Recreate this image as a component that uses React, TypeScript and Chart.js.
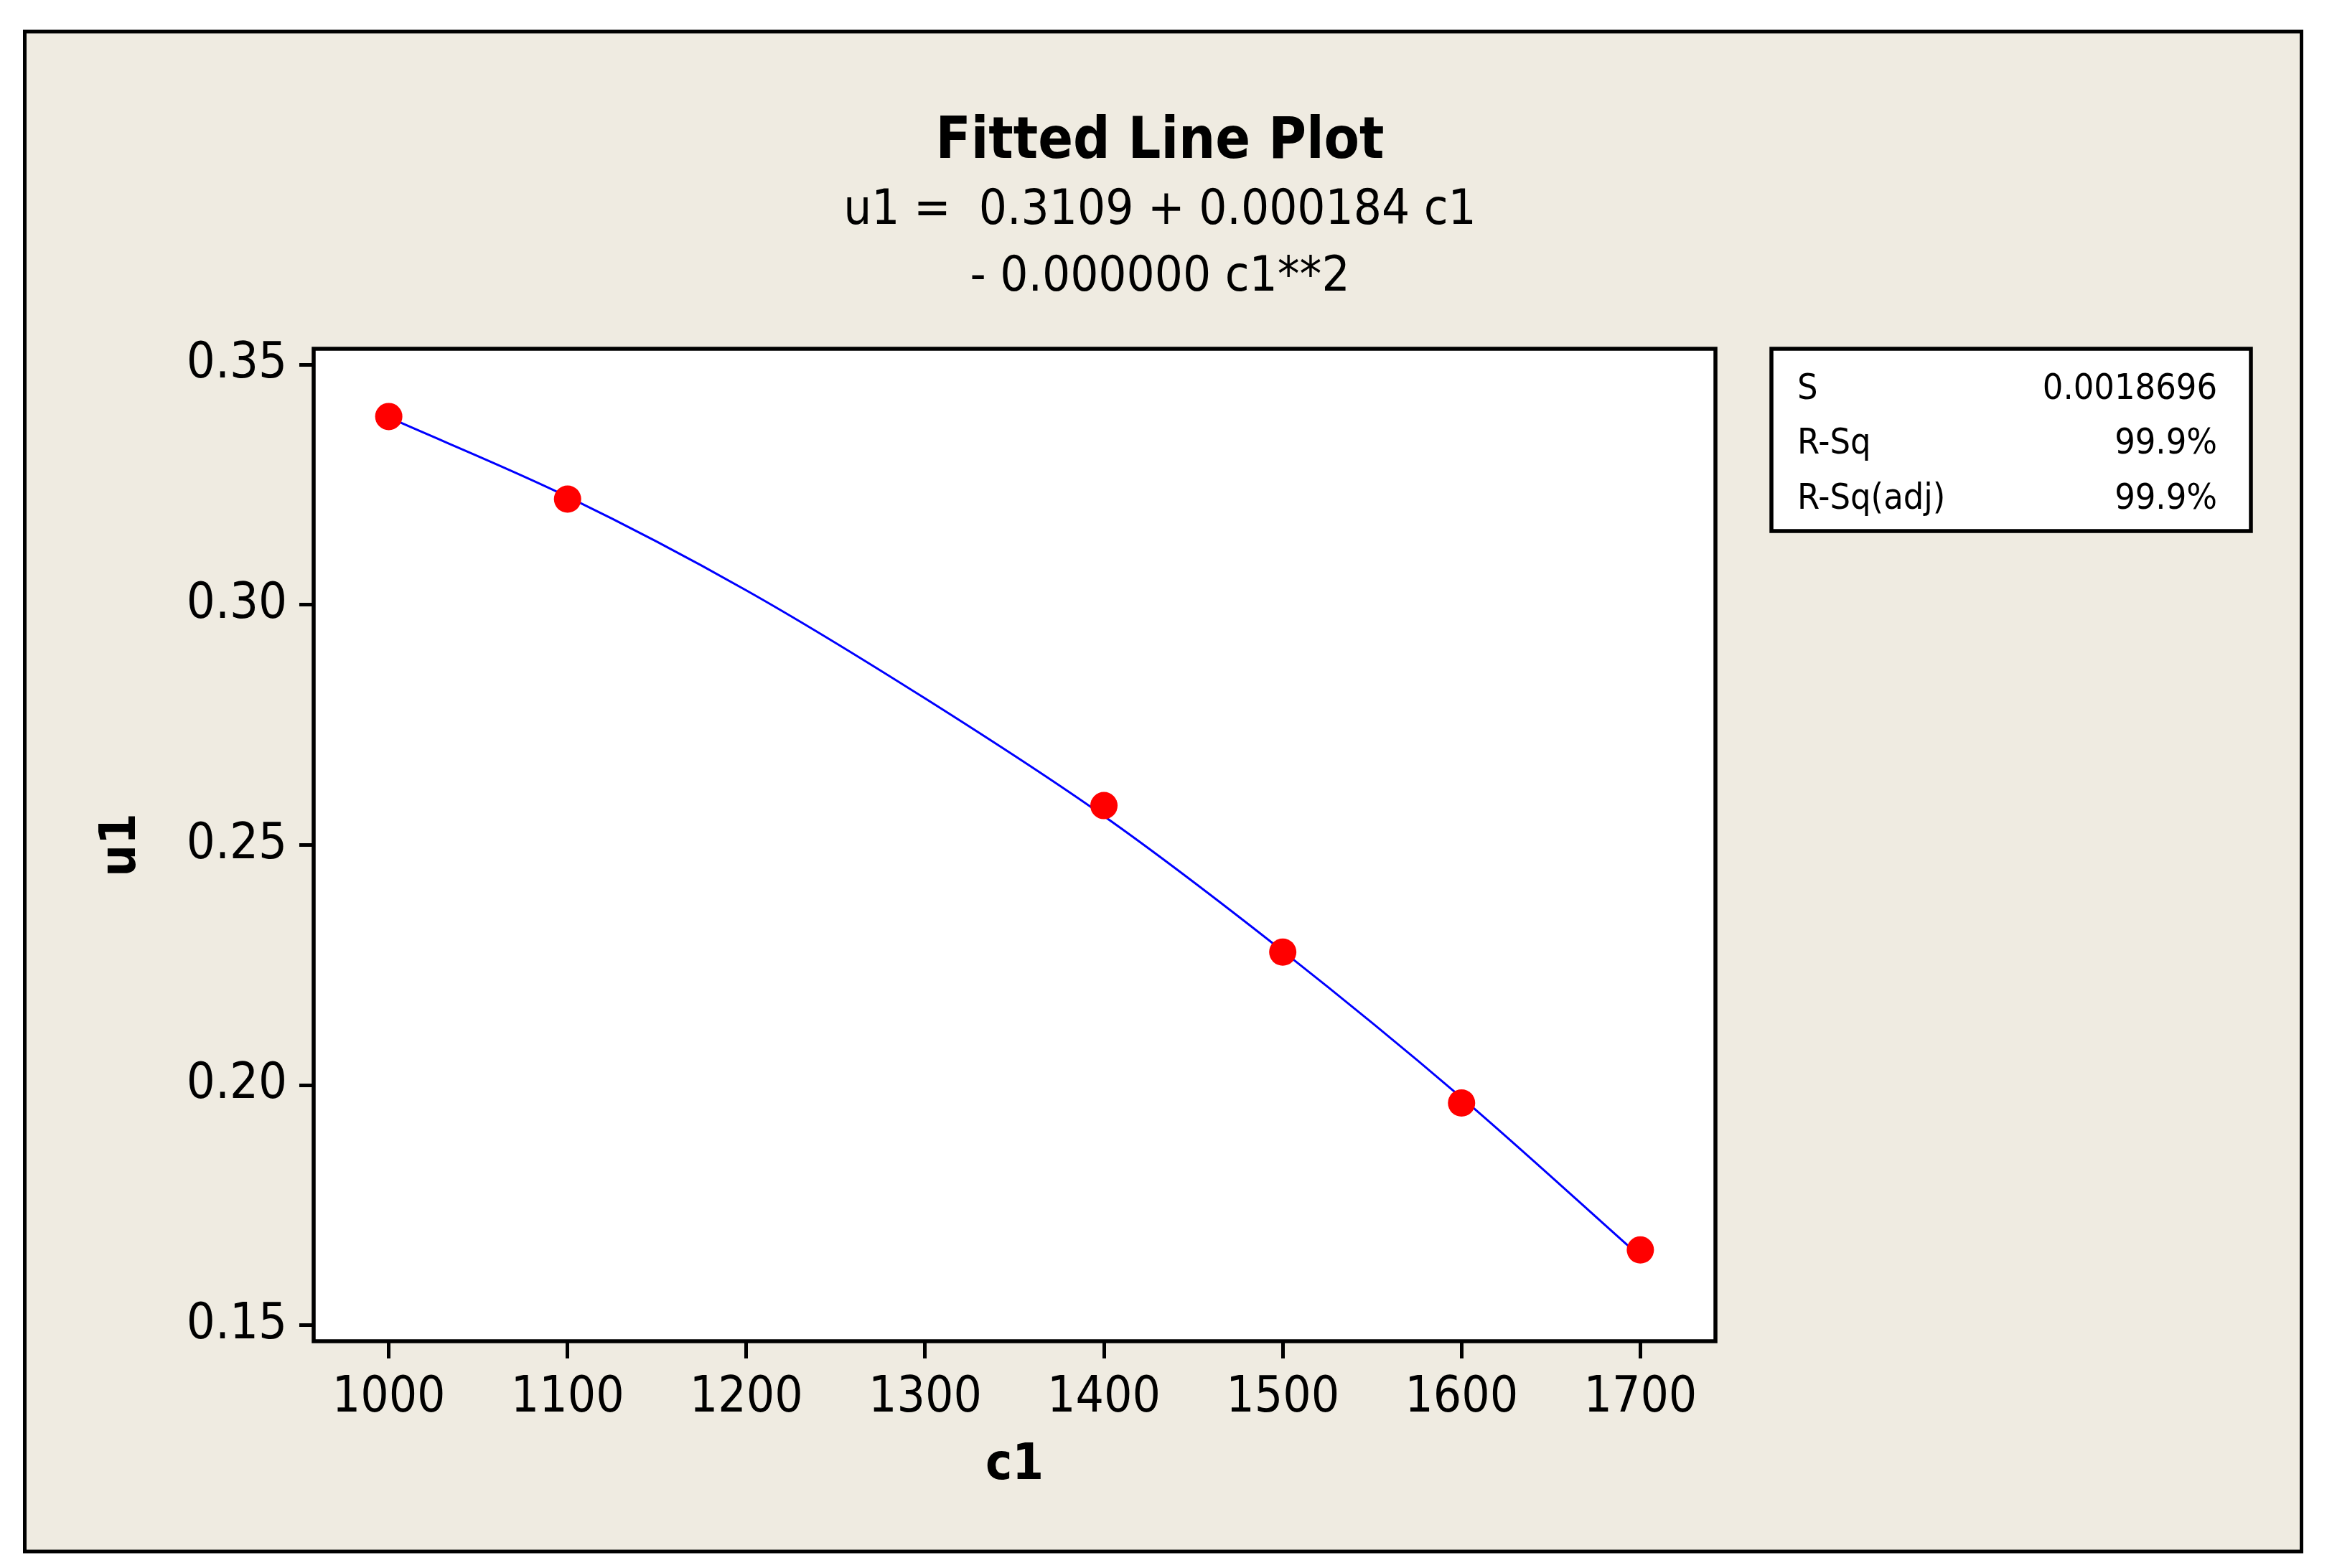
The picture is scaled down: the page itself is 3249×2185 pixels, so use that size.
import React, { useEffect, useRef } from "react";
import { Chart, registerables } from "chart.js";

Chart.register(...registerables);

// ---- data ----
const C1_OBS = [1000, 1100, 1400, 1500, 1600, 1700];
const U1_OBS = [0.3392, 0.322, 0.2582, 0.2277, 0.1963, 0.1657];

const C1_FIT = [1000, 1100, 1200, 1300, 1400, 1500, 1600, 1700];
const U1_FIT = [0.339, 0.3225, 0.303, 0.2805, 0.256, 0.2279, 0.1974, 0.1643];

const X_TICKS = [1000, 1100, 1200, 1300, 1400, 1500, 1600, 1700];
const Y_TICKS = [0.15, 0.2, 0.25, 0.3, 0.35];

const TITLE = "Fitted Line Plot";
const SUBTITLE = ["u1 =  0.3109 + 0.000184 c1", "- 0.000000 c1**2"];
const X_TITLE = "c1";
const Y_TITLE = "u1";

const STAT_LABELS = ["S", "R-Sq", "R-Sq(adj)"];
const STAT_VALUES = ["0.0018696", "99.9%", "99.9%"];

// ---- styling ----
const W = 3249;
const H = 2185;
const FONT = '"DejaVu Sans Condensed", "DejaVu Sans", sans-serif';
const BEIGE = "rgb(239,235,225)";

const framePlugin = {
  id: "minitabFrame",
  beforeDraw(chart: any) {
    const { ctx, chartArea } = chart;
    ctx.save();
    ctx.fillStyle = "#ffffff";
    ctx.fillRect(0, 0, W, H);
    ctx.fillStyle = BEIGE;
    ctx.fillRect(34, 44, 3206 - 34, 2162 - 44);
    ctx.fillStyle = "#ffffff";
    ctx.fillRect(chartArea.left, chartArea.top, chartArea.right - chartArea.left, chartArea.bottom - chartArea.top);
    ctx.restore();
  },
  afterDraw(chart: any) {
    const { ctx, chartArea } = chart;
    ctx.save();
    ctx.strokeStyle = "#000000";
    // outer frame
    ctx.lineWidth = 5;
    ctx.strokeRect(34.5, 44, 3206.5 - 34.5, 2162 - 44);
    // plot frame
    ctx.lineWidth = 5.5;
    ctx.strokeRect(chartArea.left, chartArea.top, chartArea.right - chartArea.left, chartArea.bottom - chartArea.top);
    // stats box
    const bx = 2468, by = 486, bw = 3136 - 2468, bh = 740 - 486;
    ctx.fillStyle = "#ffffff";
    ctx.fillRect(bx, by, bw, bh);
    ctx.lineWidth = 5.5;
    ctx.strokeRect(bx, by, bw, bh);
    ctx.fillStyle = "#000000";
    ctx.font = `50px ${FONT}`;
    ctx.textBaseline = "middle";
    const rows = [543, 619, 696];
    STAT_LABELS.forEach((lab, i) => {
      ctx.textAlign = "left";
      ctx.fillText(lab, 2504, rows[i]);
      ctx.textAlign = "right";
      ctx.fillText(STAT_VALUES[i], 3089, rows[i]);
    });
    ctx.restore();
  },
};

export default function App() {
  const ref = useRef<HTMLCanvasElement | null>(null);

  useEffect(() => {
    if (!ref.current) return;
    const chart = new Chart(ref.current, {
      type: "scatter",
      data: {
        datasets: [
          {
            type: "scatter",
            label: "observed",
            data: C1_OBS.map((c, i) => ({ x: c, y: U1_OBS[i] })),
            backgroundColor: "#ff0000",
            borderColor: "#ff0000",
            pointRadius: 19,
            pointBorderWidth: 0,
            order: 0,
          },
          {
            type: "line",
            label: "fit",
            data: C1_FIT.map((c, i) => ({ x: c, y: U1_FIT[i] })),
            borderColor: "#0000ff",
            borderWidth: 3,
            pointRadius: 0,
            fill: false,
            cubicInterpolationMode: "monotone",
            order: 1,
          },
        ],
      } as any,
      options: {
        animation: false,
        responsive: false,
        devicePixelRatio: 1,
        layout: { padding: { left: 0, right: 17, top: 0, bottom: 0 } },
        plugins: {
          legend: { display: false },
          tooltip: { enabled: false },
          title: {
            display: true,
            text: TITLE,
            color: "#000",
            font: { family: FONT, size: 80, weight: "bold", lineHeight: 1.0 },
            padding: { top: 159, bottom: 0 },
          },
          subtitle: {
            display: true,
            text: SUBTITLE,
            color: "#000",
            font: { family: FONT, size: 68.5, lineHeight: 93 / 68.5 },
            padding: { top: 8.5, bottom: 52.5 },
          },
        },
        scales: {
          x: {
            type: "linear",
            position: "bottom",
            min: 958,
            max: 1742,
            afterBuildTicks: (scale: any) => {
              scale.ticks = X_TICKS.map((v) => ({ value: v }));
            },
            afterFit: (scale: any) => {
              scale.height = H - 1869;
            },
            ticks: {
              color: "#000",
              font: { family: FONT, size: 69 },
              padding: 15,
              maxRotation: 0,
              autoSkip: false,
              callback: (v: any) => String(v),
            },
            grid: {
              display: true,
              drawOnChartArea: false,
              drawTicks: true,
              tickLength: 24,
              color: "#000",
              lineWidth: 5,
            },
            border: { display: false },
            title: {
              display: true,
              text: X_TITLE,
              color: "#000",
              font: { family: FONT, size: 70, weight: "bold", lineHeight: 1.2 },
              padding: { top: 0, bottom: 100 },
            },
          },
          y: {
            type: "linear",
            position: "left",
            min: 0.1467,
            max: 0.3533,
            afterBuildTicks: (scale: any) => {
              scale.ticks = Y_TICKS.map((v) => ({ value: v }));
            },
            afterFit: (scale: any) => {
              scale.width = 437;
            },
            ticks: {
              color: "#000",
              font: { family: FONT, size: 70 },
              padding: 17,
              autoSkip: false,
              callback: (v: any) => Number(v).toFixed(2),
            },
            grid: {
              display: true,
              drawOnChartArea: false,
              drawTicks: true,
              tickLength: 20,
              color: "#000",
              lineWidth: 5,
            },
            border: { display: false },
            title: {
              display: true,
              text: Y_TITLE,
              color: "#000",
              font: { family: FONT, size: 70, weight: "bold", lineHeight: 1.2 },
              padding: { top: 128, bottom: 0 },
            },
          },
          yPad: {
            type: "linear",
            position: "right",
            axis: "y",
            display: true,
            afterFit: (scale: any) => {
              scale.width = W - 17 - 2390;
            },
            ticks: { display: false },
            grid: { display: false },
            border: { display: false },
            title: { display: false },
          },
        },
      } as any,
      plugins: [framePlugin],
    });
    return () => chart.destroy();
  }, []);

  return (
    <div style={{ position: "absolute", left: 0, top: 0, width: W, height: H, background: "#fff" }}>
      <canvas ref={ref} width={W} height={H} style={{ display: "block", width: W, height: H }} />
    </div>
  );
}
